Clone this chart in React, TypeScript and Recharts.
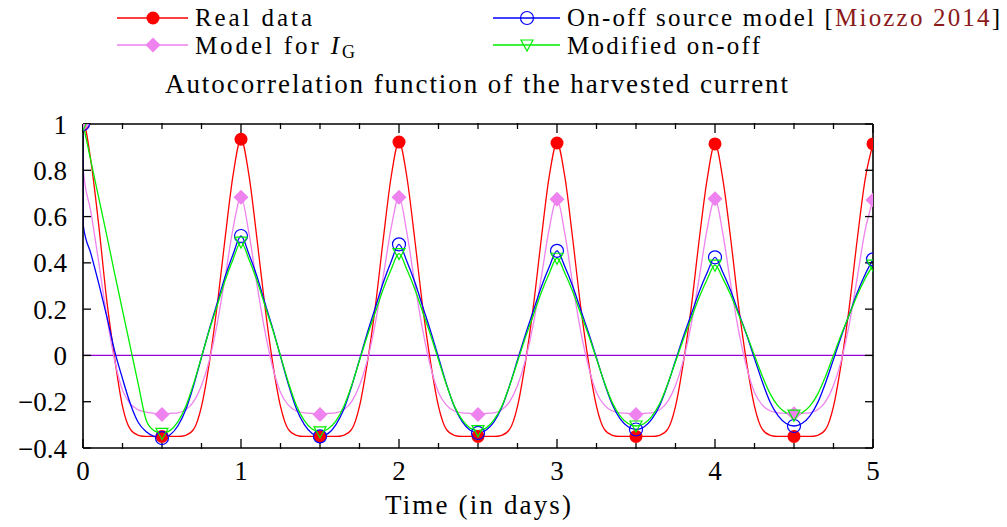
import React from 'react';
import { LineChart, Line, XAxis, YAxis, ReferenceLine } from 'recharts';

// Time lag (days)
const days = [
  0, 0.002,
  0.05, 0.1, 0.15, 0.2, 0.25, 0.3, 0.35, 0.4, 0.45, 0.5,
  0.55, 0.6, 0.65, 0.7, 0.75, 0.8, 0.85, 0.9, 0.95, 1,
  1.05, 1.1, 1.15, 1.2, 1.25, 1.3, 1.35, 1.4, 1.45, 1.5,
  1.55, 1.6, 1.65, 1.7, 1.75, 1.8, 1.85, 1.9, 1.95, 2,
  2.05, 2.1, 2.15, 2.2, 2.25, 2.3, 2.35, 2.4, 2.45, 2.5,
  2.55, 2.6, 2.65, 2.7, 2.75, 2.8, 2.85, 2.9, 2.95, 3,
  3.05, 3.1, 3.15, 3.2, 3.25, 3.3, 3.35, 3.4, 3.45, 3.5,
  3.55, 3.6, 3.65, 3.7, 3.75, 3.8, 3.85, 3.9, 3.95, 4,
  4.05, 4.1, 4.15, 4.2, 4.25, 4.3, 4.35, 4.4, 4.45, 4.5,
  4.55, 4.6, 4.65, 4.7, 4.75, 4.8, 4.85, 4.9, 4.95, 5,
];

const realData = [
  1, 1.0,
  0.84, 0.56, 0.24, -0.01, -0.22, -0.32, -0.345, -0.35, -0.35, -0.35,
  -0.35, -0.35, -0.345, -0.32, -0.22, -0.03, 0.22, 0.51, 0.78, 0.934,
  0.78, 0.51, 0.22, -0.03, -0.22, -0.32, -0.345, -0.35, -0.35, -0.35,
  -0.35, -0.35, -0.345, -0.32, -0.22, -0.03, 0.21, 0.5, 0.77, 0.922,
  0.77, 0.5, 0.21, -0.03, -0.22, -0.32, -0.345, -0.35, -0.35, -0.35,
  -0.35, -0.35, -0.345, -0.32, -0.22, -0.03, 0.21, 0.5, 0.77, 0.918,
  0.77, 0.5, 0.21, -0.03, -0.22, -0.32, -0.345, -0.35, -0.35, -0.35,
  -0.35, -0.35, -0.345, -0.32, -0.22, -0.03, 0.21, 0.5, 0.76, 0.914,
  0.76, 0.5, 0.21, -0.03, -0.22, -0.32, -0.345, -0.35, -0.35, -0.35,
  -0.35, -0.35, -0.345, -0.32, -0.22, -0.03, 0.21, 0.5, 0.76, 0.914,
];

const modelIG = [
  1, 0.8,
  0.62, 0.4, 0.17, -0.02, -0.15, -0.21, -0.235, -0.245, -0.25, -0.255,
  -0.25, -0.248, -0.235, -0.2, -0.13, -0.02, 0.14, 0.34, 0.55, 0.683,
  0.53, 0.31, 0.11, -0.05, -0.16, -0.215, -0.24, -0.248, -0.25, -0.255,
  -0.25, -0.248, -0.235, -0.2, -0.13, -0.02, 0.14, 0.34, 0.55, 0.684,
  0.53, 0.31, 0.11, -0.05, -0.16, -0.215, -0.24, -0.248, -0.25, -0.255,
  -0.25, -0.248, -0.235, -0.2, -0.13, -0.02, 0.135, 0.335, 0.545, 0.675,
  0.525, 0.305, 0.105, -0.05, -0.16, -0.215, -0.24, -0.248, -0.25, -0.255,
  -0.25, -0.248, -0.235, -0.2, -0.13, -0.02, 0.135, 0.335, 0.545, 0.677,
  0.525, 0.305, 0.105, -0.05, -0.16, -0.215, -0.24, -0.248, -0.25, -0.252,
  -0.25, -0.248, -0.235, -0.2, -0.13, -0.02, 0.135, 0.335, 0.54, 0.672,
];

const onOffModel = [
  1, 0.56,
  0.44, 0.31, 0.17, 0.02, -0.1, -0.21, -0.29, -0.33, -0.35, -0.357,
  -0.344, -0.305, -0.235, -0.13, -0.008, 0.114, 0.228, 0.341, 0.437, 0.516,
  0.438, 0.343, 0.23, 0.118, -0.004, -0.125, -0.229, -0.298, -0.337, -0.35,
  -0.338, -0.3, -0.234, -0.134, -0.018, 0.098, 0.206, 0.314, 0.405, 0.48,
  0.406, 0.317, 0.211, 0.105, -0.009, -0.123, -0.221, -0.286, -0.323, -0.335,
  -0.323, -0.288, -0.225, -0.13, -0.02, 0.09, 0.192, 0.295, 0.381, 0.452,
  0.383, 0.298, 0.197, 0.097, -0.011, -0.119, -0.212, -0.274, -0.308, -0.32,
  -0.309, -0.275, -0.216, -0.127, -0.022, 0.082, 0.178, 0.275, 0.357, 0.424,
  0.358, 0.278, 0.183, 0.089, -0.013, -0.115, -0.203, -0.261, -0.294, -0.305,
  -0.294, -0.262, -0.204, -0.118, -0.017, 0.084, 0.177, 0.271, 0.35, 0.415,
];

const modifiedOnOff = [
  1, 0.994,
  0.84, 0.68, 0.52, 0.355, 0.195, 0.035, -0.125, -0.28, -0.325, -0.337,
  -0.325, -0.287, -0.221, -0.122, -0.006, 0.11, 0.217, 0.325, 0.416, 0.49,
  0.416, 0.326, 0.219, 0.113, -0.002, -0.117, -0.215, -0.281, -0.318, -0.33,
  -0.318, -0.284, -0.222, -0.13, -0.022, 0.086, 0.186, 0.286, 0.371, 0.44,
  0.371, 0.287, 0.188, 0.088, -0.019, -0.126, -0.218, -0.279, -0.314, -0.325,
  -0.314, -0.28, -0.221, -0.131, -0.027, 0.077, 0.174, 0.271, 0.353, 0.42,
  0.355, 0.275, 0.181, 0.087, -0.015, -0.117, -0.204, -0.262, -0.294, -0.305,
  -0.295, -0.263, -0.208, -0.124, -0.027, 0.07, 0.161, 0.251, 0.328, 0.39,
  0.332, 0.26, 0.176, 0.092, 0, -0.09, -0.167, -0.219, -0.248, -0.258,
  -0.248, -0.219, -0.167, -0.09, 0.001, 0.092, 0.176, 0.26, 0.332, 0.39,
];

const markerDays = [0, 0.5, 1, 1.5, 2, 2.5, 3, 3.5, 4, 4.5, 5];
const majorDayTicks = [0, 1, 2, 3, 4, 5];
const minorDayTicks = [0.25, 0.5, 0.75, 1.25, 1.5, 1.75, 2.25, 2.5, 2.75, 3.25, 3.5, 3.75, 4.25, 4.5, 4.75];
const yTicks = [-0.4, -0.2, 0, 0.2, 0.4, 0.6, 0.8, 1];

const chartData = days.map((t, i) => ({
  t,
  real: realData[i],
  model: modelIG[i],
  onoff: onOffModel[i],
  modified: modifiedOnOff[i],
}));

const FONT = '"Liberation Serif", "Times New Roman", serif';
const RED = '#ff0000';
const VIOLET = '#ee82ee';
const BLUE = '#0000ff';
const GREEN = '#00ee00';

const isMarker = (t: number) => markerDays.includes(t);

const mkDot = (kind: string) => (props: any) => {
  const { cx, cy, payload, index } = props;
  const key = `${kind}-${index}`;
  if (!payload || !isMarker(payload.t) || cx == null || cy == null) return <g key={key} />;
  if (kind === 'real') return <circle key={key} cx={cx} cy={cy} r={6.5} fill={RED} />;
  if (kind === 'model')
    return <polygon key={key} points={`${cx},${cy - 7.5} ${cx + 7.5},${cy} ${cx},${cy + 7.5} ${cx - 7.5},${cy}`} fill={VIOLET} />;
  if (kind === 'onoff') return <circle key={key} cx={cx} cy={cy} r={6.5} fill="none" stroke={BLUE} strokeWidth={1.2} />;
  return (
    <polygon key={key} points={`${cx - 6},${cy - 5} ${cx + 6},${cy - 5} ${cx},${cy + 6}`} fill="none" stroke={GREEN} strokeWidth={1.2} />
  );
};

const EmptyTick = (props: any) => <g key={`e-${props.index}`} />;

const fmtY = (v: number) => (v < 0 ? '\u2212' + String(Math.abs(v)) : String(v));

const tickStyle = { fill: '#000', fontSize: 27, fontFamily: FONT };
const axisLineStyle = { stroke: '#000', strokeWidth: 1.6 };
const tickLineStyle = { stroke: '#000', strokeWidth: 1.3 };

export default function App() {
  return (
    <div style={{ position: 'absolute', left: 0, top: 0, width: 1007, height: 527, background: '#fff' }}>
      <LineChart
        width={1007}
        height={527}
        data={chartData}
        margin={{ top: 122, right: 133, bottom: 77, left: 82 }}
      >
        <XAxis
          dataKey="t"
          type="number"
          domain={[0, 5]}
          ticks={majorDayTicks}
          interval={0}
          allowDataOverflow
          height={1}
          tickSize={-9}
          tickMargin={22}
          tick={tickStyle}
          axisLine={axisLineStyle}
          tickLine={tickLineStyle}
        />
        <XAxis
          xAxisId="minor"
          dataKey="t"
          type="number"
          domain={[0, 5]}
          ticks={minorDayTicks}
          interval={0}
          allowDataOverflow
          height={1}
          tickSize={-6}
          tick={EmptyTick}
          axisLine={false}
          tickLine={tickLineStyle}
        />
        <XAxis
          xAxisId="top"
          orientation="top"
          dataKey="t"
          type="number"
          domain={[0, 5]}
          ticks={majorDayTicks}
          interval={0}
          allowDataOverflow
          height={1}
          tickSize={-9}
          tick={EmptyTick}
          axisLine={axisLineStyle}
          tickLine={tickLineStyle}
        />
        <XAxis
          xAxisId="topMinor"
          orientation="top"
          dataKey="t"
          type="number"
          domain={[0, 5]}
          ticks={minorDayTicks}
          interval={0}
          allowDataOverflow
          height={1}
          tickSize={-6}
          tick={EmptyTick}
          axisLine={false}
          tickLine={tickLineStyle}
        />
        <YAxis
          type="number"
          domain={[-0.4, 1]}
          ticks={yTicks}
          interval={0}
          allowDataOverflow
          width={1}
          tickSize={-8}
          tickMargin={24}
          tick={tickStyle}
          tickFormatter={fmtY}
          axisLine={axisLineStyle}
          tickLine={tickLineStyle}
        />
        <YAxis
          yAxisId="right"
          orientation="right"
          type="number"
          domain={[-0.4, 1]}
          ticks={yTicks}
          interval={0}
          allowDataOverflow
          width={1}
          tickSize={-8}
          tick={EmptyTick}
          axisLine={axisLineStyle}
          tickLine={tickLineStyle}
        />
        <ReferenceLine y={0} stroke="#9400d3" strokeWidth={1.3} />
        <Line dataKey="real" type="monotone" stroke={RED} strokeWidth={1.3} dot={mkDot('real')} activeDot={false} isAnimationActive={false} />
        <Line dataKey="model" type="monotone" stroke={VIOLET} strokeWidth={1.3} dot={mkDot('model')} activeDot={false} isAnimationActive={false} />
        <Line dataKey="onoff" type="monotone" stroke={BLUE} strokeWidth={1.3} dot={mkDot('onoff')} activeDot={false} isAnimationActive={false} />
        <Line dataKey="modified" type="monotone" stroke={GREEN} strokeWidth={1.3} dot={mkDot('modified')} activeDot={false} isAnimationActive={false} />
      </LineChart>
      <svg
        width={1007}
        height={527}
        style={{ position: 'absolute', left: 0, top: 0, pointerEvents: 'none' }}
        fontFamily={FONT}
        fontSize={27}
      >
        {/* legend row 1 */}
        <line x1={117} y1={18} x2={188} y2={18} stroke={RED} strokeWidth={1.3} />
        <circle cx={153} cy={18} r={6.5} fill={RED} />
        <text x={195} y={26} fontSize={25} textLength={117} lengthAdjust="spacing">Real data</text>
        <line x1={493} y1={18} x2={560} y2={18} stroke={BLUE} strokeWidth={1.3} />
        <circle cx={527} cy={18} r={6.5} fill="none" stroke={BLUE} strokeWidth={1.2} />
        <text x={567} y={26} fontSize={25} textLength={433} lengthAdjust="spacing">
          On-off source model [<tspan fill="#8b1a1a">Miozzo 2014</tspan>]
        </text>
        {/* legend row 2 */}
        <line x1={117} y1={45} x2={188} y2={45} stroke={VIOLET} strokeWidth={1.3} />
        <polygon points="153,37.5 160.5,45 153,52.5 145.5,45" fill={VIOLET} />
        <text x={195} y={54} fontSize={25} textLength={160} lengthAdjust="spacing">
          Model for <tspan fontStyle="italic">I</tspan>
          <tspan fontSize={18} dy={4}>G</tspan>
        </text>
        <line x1={493} y1={45} x2={560} y2={45} stroke={GREEN} strokeWidth={1.3} />
        <polygon points="521,40 533,40 527,51" fill="none" stroke={GREEN} strokeWidth={1.2} />
        <text x={567} y={54} fontSize={25} textLength={193} lengthAdjust="spacing">Modified on-off</text>
        {/* title */}
        <text x={476.5} y={93} textAnchor="middle" textLength={623} lengthAdjust="spacing">
          Autocorrelation function of the harvested current
        </text>
        {/* x axis label */}
        <text x={478} y={514} textAnchor="middle" textLength={186} lengthAdjust="spacing">
          Time (in days)
        </text>
      </svg>
    </div>
  );
}
